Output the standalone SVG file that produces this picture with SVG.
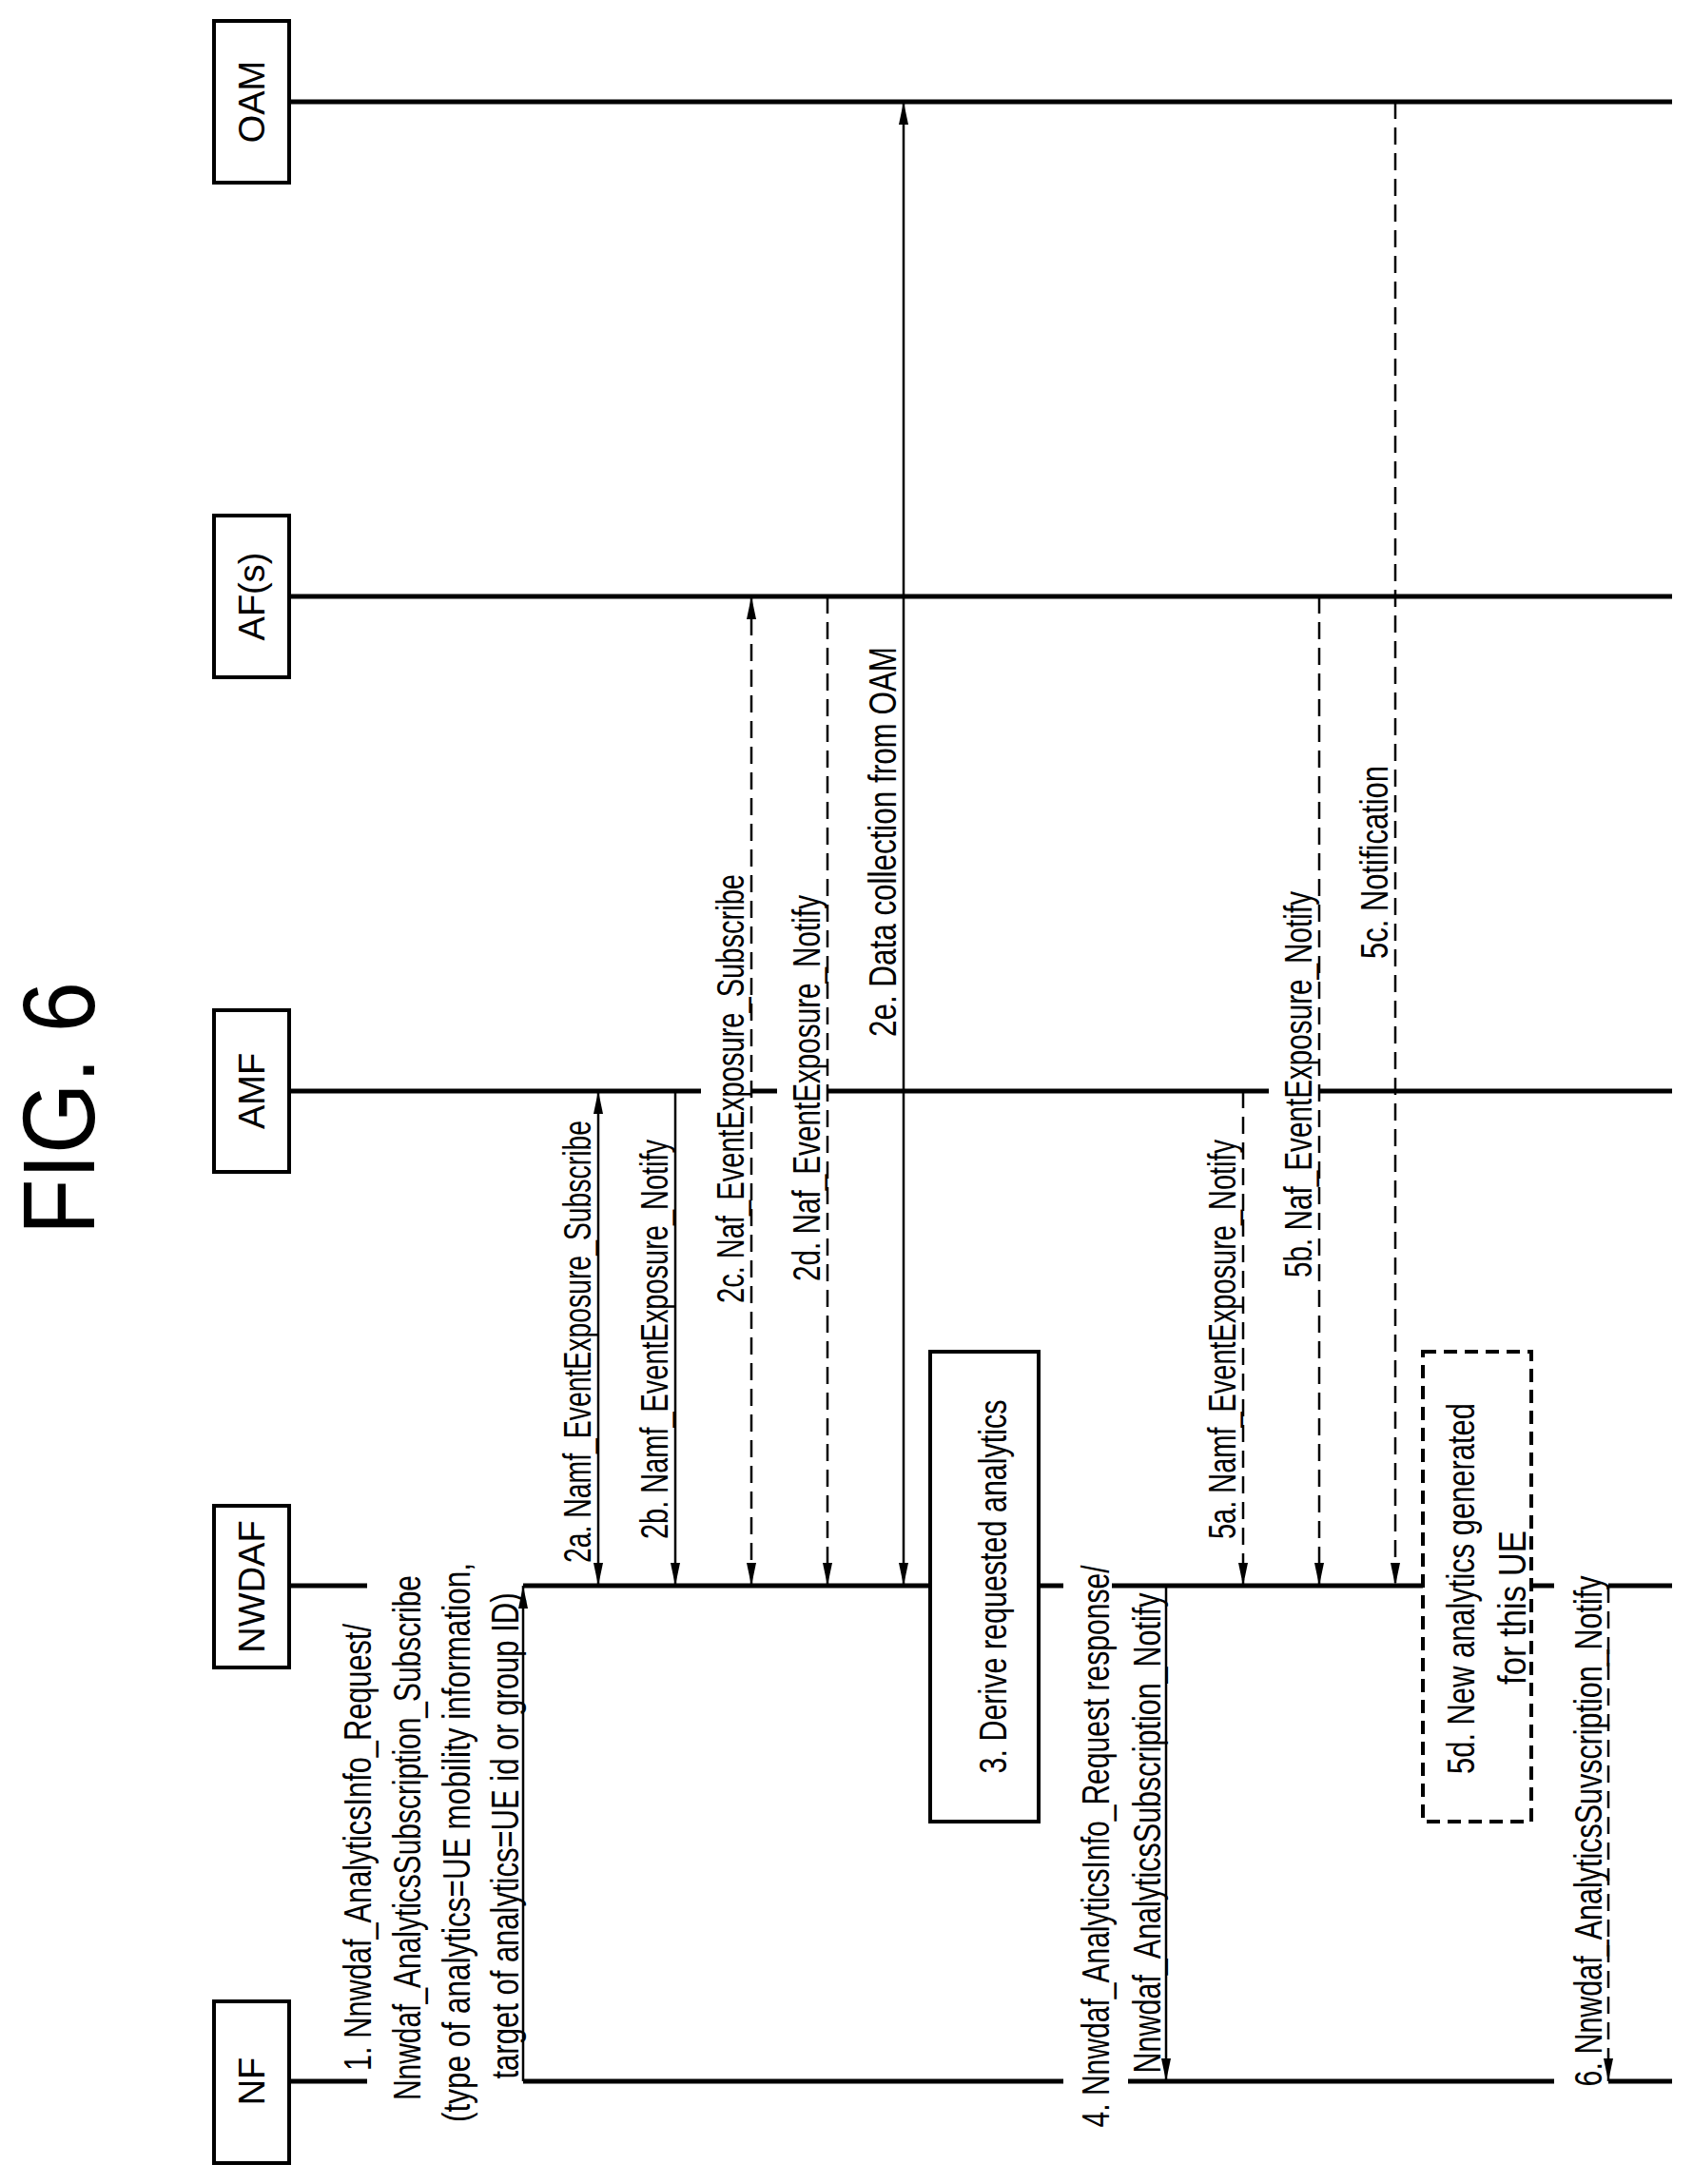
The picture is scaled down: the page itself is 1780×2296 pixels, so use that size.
<svg xmlns="http://www.w3.org/2000/svg" width="1780" height="2296" viewBox="0 0 1780 2296">
<style>
text{font-family:"Liberation Sans",Arial,sans-serif;fill:#000}
.lbl{font-size:40px}
.part{font-size:38px}
.life{stroke:#000;stroke-width:5;fill:none}
.box{fill:#fff;stroke:#000;stroke-width:4}
.msg{stroke:#000;stroke-width:2.5;fill:none}
.dash{stroke-dasharray:18,9}
</style>
<defs>
<marker id="ah" viewBox="0 0 24 10" refX="24" refY="5" markerWidth="24" markerHeight="10" markerUnits="userSpaceOnUse" orient="auto-start-reverse">
<path d="M0,0 L24,5 L0,10 Z" fill="#000"/>
</marker>
</defs>
<text transform="translate(99,1298) rotate(-90)" font-size="108" textLength="266" lengthAdjust="spacingAndGlyphs">FIG. 6</text>
<g id="lifelines">
<line class="life" x1="304" y1="107" x2="1758" y2="107"/>
<line class="life" x1="304" y1="627" x2="1758" y2="627"/>
<path class="life" d="M304,1147H737M790,1147H817M870,1147H1334M1387,1147H1758"/>
<path class="life" d="M304,1667H386M550,1667H978M1092,1667H1118M1169,1667H1496M1610,1667H1634M1691,1667H1758"/>
<path class="life" d="M304,2188H386M550,2188H1118M1186,2188H1634M1691,2188H1758"/>
</g>
<g id="OAM"><rect class="box" x="225" y="22" width="79" height="170"/><text class="part" text-anchor="middle" transform="translate(278,107) rotate(-90)">OAM</text></g>
<g id="AF"><rect class="box" x="225" y="542" width="79" height="170"/><text class="part" text-anchor="middle" transform="translate(278,627) rotate(-90)">AF(s)</text></g>
<g id="AMF"><rect class="box" x="225" y="1062" width="79" height="170"/><text class="part" text-anchor="middle" transform="translate(278,1147) rotate(-90)">AMF</text></g>
<g id="NWDAF"><rect class="box" x="225" y="1583" width="79" height="170"/><text class="part" text-anchor="middle" transform="translate(278,1668) rotate(-90)">NWDAF</text></g>
<g id="NF"><rect class="box" x="225" y="2104" width="79" height="170"/><text class="part" text-anchor="middle" transform="translate(278,2188) rotate(-90)">NF</text></g>
<g id="step3"><rect class="box" x="978" y="1421" width="114" height="494"/><text class="lbl" text-anchor="middle" transform="translate(1058,1668) rotate(-90)" textLength="393" lengthAdjust="spacingAndGlyphs">3. Derive requested analytics</text></g>
<g id="step5d"><rect class="box" x="1496" y="1421" width="114" height="494" stroke-dasharray="14,8"/>
<text class="lbl" text-anchor="middle" transform="translate(1550,1670) rotate(-90)" textLength="390" lengthAdjust="spacingAndGlyphs">5d. New analytics generated</text>
<text class="lbl" text-anchor="middle" transform="translate(1604,1690) rotate(-90)" textLength="162" lengthAdjust="spacingAndGlyphs">for this UE</text></g>
<g id="connectors">
<line class="msg" x1="550" y1="2188" x2="550" y2="1667" marker-end="url(#ah)"/>
<line class="msg" x1="629" y1="1667" x2="629" y2="1147" marker-start="url(#ah)" marker-end="url(#ah)"/>
<line class="msg" x1="710" y1="1147" x2="710" y2="1667" marker-end="url(#ah)"/>
<line class="msg dash" x1="790" y1="1667" x2="790" y2="627" marker-start="url(#ah)" marker-end="url(#ah)"/>
<line class="msg dash" x1="870" y1="627" x2="870" y2="1667" marker-end="url(#ah)"/>
<line class="msg" x1="950" y1="1667" x2="950" y2="107" marker-start="url(#ah)" marker-end="url(#ah)"/>
<line class="msg" x1="1226" y1="1667" x2="1226" y2="2188" marker-end="url(#ah)"/>
<line class="msg dash" x1="1307" y1="1147" x2="1307" y2="1667" marker-end="url(#ah)"/>
<line class="msg dash" x1="1387" y1="627" x2="1387" y2="1667" marker-end="url(#ah)"/>
<line class="msg dash" x1="1467" y1="107" x2="1467" y2="1667" marker-end="url(#ah)"/>
<line class="msg dash" x1="1691" y1="1667" x2="1691" y2="2188" marker-end="url(#ah)"/>
</g>
<g id="labels">
<text class="lbl" text-anchor="middle" transform="translate(390,1942) rotate(-90)" textLength="470" lengthAdjust="spacingAndGlyphs">1. Nnwdaf_AnalyticsInfo_Request/</text>
<text class="lbl" text-anchor="middle" transform="translate(442,1932) rotate(-90)" textLength="552" lengthAdjust="spacingAndGlyphs">Nnwdaf_AnalyticsSubscription_Subscribe</text>
<text class="lbl" text-anchor="middle" transform="translate(494,1937) rotate(-90)" textLength="588" lengthAdjust="spacingAndGlyphs">(type of analytics=UE mobility information,</text>
<text class="lbl" text-anchor="middle" transform="translate(545,1930) rotate(-90)" textLength="511" lengthAdjust="spacingAndGlyphs">target of analytics=UE id or group ID)</text>
<text class="lbl" transform="translate(621,1643) rotate(-90)" textLength="465" lengthAdjust="spacingAndGlyphs">2a. Namf_EventExposure_Subscribe</text>
<text class="lbl" transform="translate(702,1618) rotate(-90)" textLength="420" lengthAdjust="spacingAndGlyphs">2b. Namf_EventExposure_Notify</text>
<text class="lbl" transform="translate(782,1370) rotate(-90)" textLength="451" lengthAdjust="spacingAndGlyphs">2c. Naf_EventExposure_Subscribe</text>
<text class="lbl" transform="translate(862,1347) rotate(-90)" textLength="406" lengthAdjust="spacingAndGlyphs">2d. Naf_EventExposure_Notify</text>
<text class="lbl" transform="translate(942,1090) rotate(-90)" textLength="410" lengthAdjust="spacingAndGlyphs">2e. Data collection from OAM</text>
<text class="lbl" text-anchor="middle" transform="translate(1166,1941) rotate(-90)" textLength="591" lengthAdjust="spacingAndGlyphs">4. Nnwdaf_AnalyticsInfo_Request response/</text>
<text class="lbl" text-anchor="middle" transform="translate(1220,1927) rotate(-90)" textLength="505" lengthAdjust="spacingAndGlyphs">Nnwdaf_AnalyticsSubscription_Notify</text>
<text class="lbl" transform="translate(1299,1618) rotate(-90)" textLength="420" lengthAdjust="spacingAndGlyphs">5a. Namf_EventExposure_Notify</text>
<text class="lbl" transform="translate(1379,1343) rotate(-90)" textLength="406" lengthAdjust="spacingAndGlyphs">5b. Naf_EventExposure_Notify</text>
<text class="lbl" transform="translate(1459,1008) rotate(-90)" textLength="203" lengthAdjust="spacingAndGlyphs">5c. Notification</text>
<text class="lbl" text-anchor="middle" transform="translate(1684,1925) rotate(-90)" textLength="537" lengthAdjust="spacingAndGlyphs">6. Nnwdaf_AnalyticsSuvscription_Notify</text>
</g>
</svg>
